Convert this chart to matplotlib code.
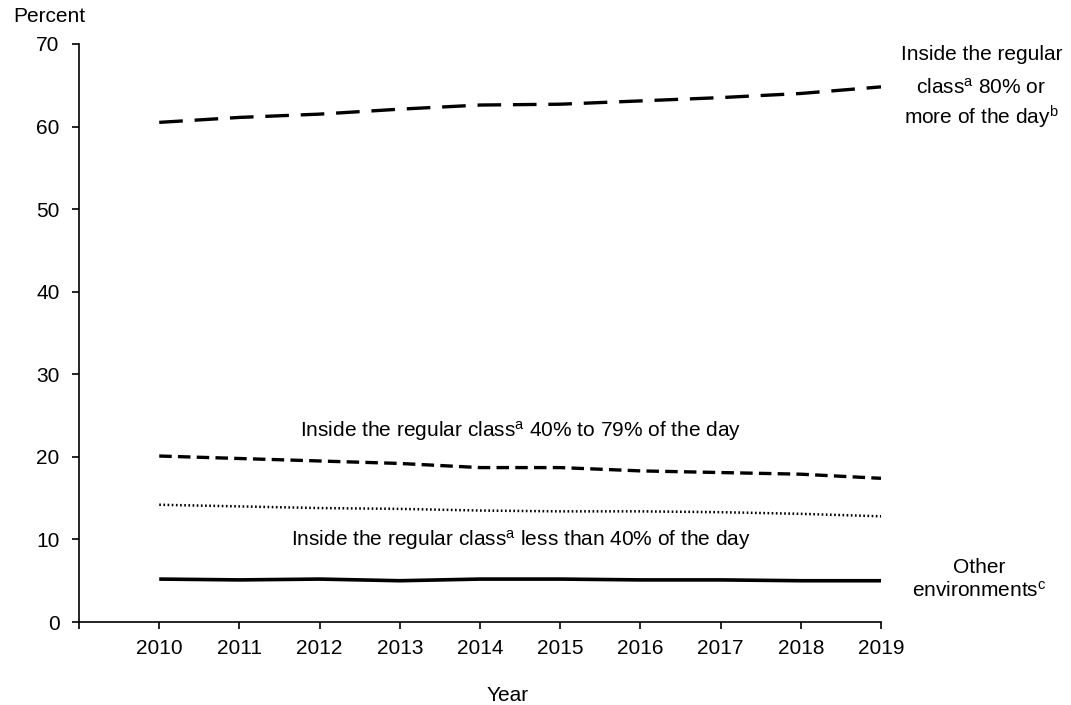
import matplotlib
matplotlib.use("Agg")
import matplotlib.pyplot as plt

plt.rcParams["font.family"] = ["Liberation Sans", "DejaVu Sans"]
plt.rcParams["mathtext.fontset"] = "custom"
plt.rcParams["mathtext.rm"] = "Liberation Sans"
plt.rcParams["mathtext.it"] = "Liberation Sans"
plt.rcParams["lines.scale_dashes"] = False

years = [2010, 2011, 2012, 2013, 2014, 2015, 2016, 2017, 2018, 2019]
pct_80_plus = [60.5, 61.1, 61.5, 62.1, 62.6, 62.7, 63.1, 63.5, 64.0, 64.8]
pct_40_79 = [20.1, 19.8, 19.5, 19.2, 18.7, 18.7, 18.3, 18.1, 17.9, 17.4]
pct_under_40 = [14.2, 14.0, 13.8, 13.7, 13.5, 13.4, 13.4, 13.3, 13.1, 12.8]
pct_other = [5.2, 5.1, 5.2, 5.0, 5.2, 5.2, 5.1, 5.1, 5.0, 5.0]

FS = 15
SUP_A = "$^{\\mathrm{a}}$"

fig = plt.figure(figsize=(10.71, 7.05), dpi=100, facecolor="white")
ax = fig.add_axes([0.0738, 0.1177, 0.7488, 0.82])

ax.plot(years, pct_80_plus, color="black", lw=2.4, dashes=(17, 8.5))
ax.plot(years, pct_40_79, color="black", lw=2.4, dashes=(9, 4.5))
ax.plot(years, pct_under_40, color="black", lw=1.8, dashes=(1.2, 1.8))
ax.plot(years, pct_other, color="black", lw=2.6, solid_capstyle="butt")

ax.set_xlim(2009, 2019)
ax.set_ylim(0, 70)
ax.set_xticks(range(2009, 2020))
ax.set_xticklabels([""] + [str(y) for y in years])
ax.set_yticks(range(0, 71, 10))
for s in ["top", "right"]:
    ax.spines[s].set_visible(False)
ax.spines["left"].set_linewidth(1.2)
ax.spines["bottom"].set_linewidth(1.2)
ax.tick_params(axis="both", direction="out", length=5, width=1.2, labelsize=FS)
ax.tick_params(axis="y", pad=9)
ax.tick_params(axis="x", pad=7)

fig.text(0.474, 0.0135, "Year", fontsize=FS, ha="center", va="center")
fig.text(0.012, 0.976, "Percent", fontsize=FS, ha="left", va="center")

# right-hand series labels, one line each
top_lines = ["Inside the regular", "class" + SUP_A + " 80% or", "more of the day$^{\\mathrm{b}}$"]
top_base = [68.0, 64.0, 60.2]
for txt, yb in zip(top_lines, top_base):
    ax.text(2020.25, yb, txt, fontsize=FS, ha="center", va="baseline", clip_on=False)

other_lines = ["Other", "environments$^{\\mathrm{c}}$"]
other_base = [5.93, 3.03]
for txt, yb in zip(other_lines, other_base):
    ax.text(2020.22, yb, txt, fontsize=FS, ha="center", va="baseline", clip_on=False)

ax.text(2014.51, 22.5, "Inside the regular class" + SUP_A + " 40% to 79% of the day",
        fontsize=FS, ha="center", va="baseline")
ax.text(2014.51, 9.2, "Inside the regular class" + SUP_A + " less than 40% of the day",
        fontsize=FS, ha="center", va="baseline")

fig.savefig("out.png", dpi=100, facecolor="white")
